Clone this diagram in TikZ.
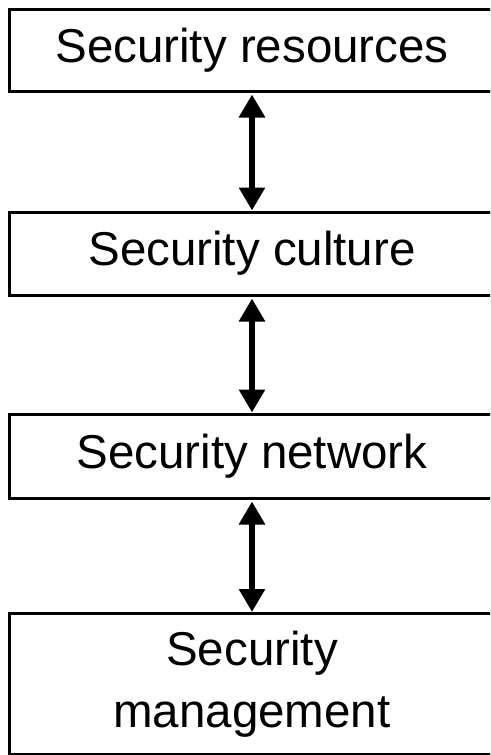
\documentclass[tikz,border=0pt]{standalone}
\usepackage{fontspec}
\setmainfont{Liberation Sans}
\usetikzlibrary{arrows.meta}
\begin{document}
\begin{tikzpicture}[x=1pt,y=-1pt,
  box/.style={draw=black,line width=3pt,fill=white,inner sep=0pt,minimum width=486pt,align=center,
    font=\fontsize{47.5}{62}\selectfont},
  link/.style={line width=6.5pt,{Triangle[width=25pt,length=23pt]}-{Triangle[width=25pt,length=23pt]},shorten <=2pt,shorten >=0pt}]
\useasboundingbox (0,0) rectangle (490,755);
\begin{scope}
\clip (0,0) rectangle (490,755);
\node[box,minimum height=82pt] (b1) at (252,50) {Security resources};
\node[box,minimum height=83pt] (b2) at (252,253.5) {Security culture};
\node[box,minimum height=84pt] (b3) at (252,456) {Security network};
\node[box,minimum height=141pt] (b4) at (252,684) {Security\\management};
\end{scope}
\draw[link] (b1.south) -- (b2.north);
\draw[link] (b2.south) -- (b3.north);
\draw[link] (b3.south) -- (b4.north);
\end{tikzpicture}
\end{document}
